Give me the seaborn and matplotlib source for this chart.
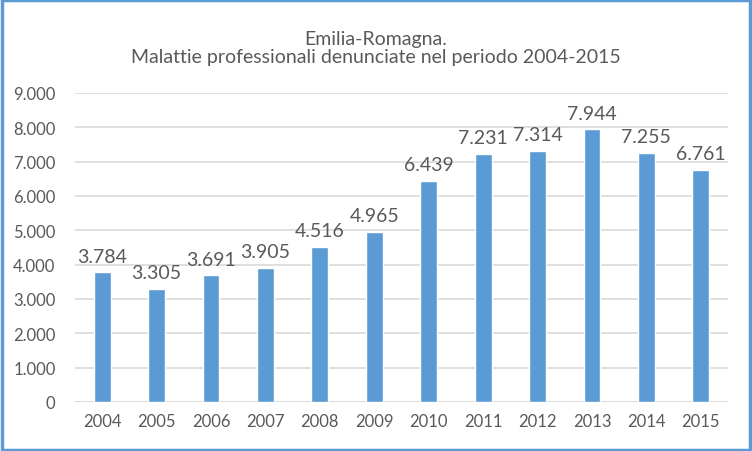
import matplotlib
matplotlib.use("Agg")
import matplotlib.pyplot as plt
import matplotlib.patches as mpatches
import pandas as pd
import seaborn as sns

years = ["2004", "2005", "2006", "2007", "2008", "2009",
         "2010", "2011", "2012", "2013", "2014", "2015"]
cases = [3784, 3305, 3691, 3905, 4516, 4965,
         6439, 7231, 7314, 7944, 7255, 6761]
y_ticks = [0, 1000, 2000, 3000, 4000, 5000, 6000, 7000, 8000, 9000]

TEXT = "#595959"
BLUE = "#5B9BD5"


def fmt_it(v):
    return f"{v:,.0f}".replace(",", ".")


sns.set_style("white")
plt.rcParams["font.family"] = ["Lato", "DejaVu Sans"]

df = pd.DataFrame({"anno": years, "casi": cases})

fig = plt.figure(figsize=(7.52, 4.52), dpi=100)
ax = fig.add_axes([75 / 752, 1 - 403 / 452, 653 / 752, 309 / 452])

sns.barplot(data=df, x="anno", y="casi", color=BLUE, saturation=1,
            width=0.31, ax=ax, zorder=3)

ax.set_ylim(0, 9000)
ax.set_xlim(-0.5, len(years) - 0.5)
ax.set_yticks(y_ticks)
ax.set_yticklabels([fmt_it(v) for v in y_ticks])
ax.yaxis.grid(True, color="#D9D9D9", linewidth=1.2, zorder=0)
ax.set_axisbelow(True)
for s in ax.spines.values():
    s.set_visible(False)
ax.axhline(0, color="#D9D9D9", linewidth=1.2, zorder=1)
ax.tick_params(axis="both", length=0, labelsize=12, colors=TEXT)
ax.tick_params(axis="y", pad=14)
ax.tick_params(axis="x", pad=8)
ax.set_xlabel("")
ax.set_ylabel("")

for i, v in enumerate(cases):
    ax.text(i, v + 220, fmt_it(v), ha="center", va="bottom",
            fontsize=14, color=TEXT)

fig.text(0.5, 1 - 40 / 452, "Emilia-Romagna.", ha="center", va="center",
         fontsize=14, color=TEXT)
fig.text(0.5, 1 - 58 / 452, "Malattie professionali denunciate nel periodo 2004-2015",
         ha="center", va="center", fontsize=14, color=TEXT)

border = mpatches.Rectangle((0.002, 0.003), 0.995, 0.994, transform=fig.transFigure,
                            fill=False, edgecolor=BLUE, linewidth=2.5)
fig.patches.append(border)

fig.savefig("out.png", dpi=100)
